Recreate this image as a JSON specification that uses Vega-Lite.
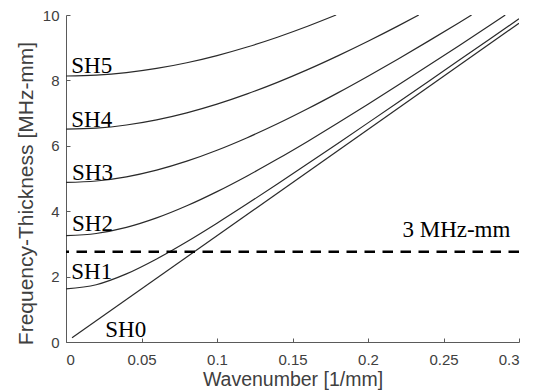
{
  "$schema": "https://vega.github.io/schema/vega-lite/v6.json",
  "autosize": {"type": "none"},
  "width": 453,
  "height": 327,
  "padding": {"left": 66, "top": 15, "right": 16, "bottom": 49},
  "background": "white",
  "config": {
    "view": {"stroke": null},
    "axis": {
      "grid": false,
      "domainColor": "#5a5a5a",
      "domainWidth": 1,
      "tickColor": "#5a5a5a",
      "tickSize": -4,
      "labelFont": "Liberation Sans",
      "labelFontSize": 15,
      "labelColor": "#404040",
      "titleFont": "Liberation Sans",
      "titleFontWeight": "normal",
      "titleColor": "#404040"
    }
  },
  "datasets": {
    "curves": [
      {"mode": "SH0", "k": 0.004, "fd": 0.13},
      {"mode": "SH0", "k": 0.3, "fd": 9.75},
      {"mode": "SH1", "k": 0, "fd": 1.627},
      {"mode": "SH1", "k": 0.02, "fd": 1.752},
      {"mode": "SH1", "k": 0.04, "fd": 2.083},
      {"mode": "SH1", "k": 0.06, "fd": 2.54},
      {"mode": "SH1", "k": 0.08, "fd": 3.067},
      {"mode": "SH1", "k": 0.1, "fd": 3.634},
      {"mode": "SH1", "k": 0.12, "fd": 4.226},
      {"mode": "SH1", "k": 0.14, "fd": 4.832},
      {"mode": "SH1", "k": 0.16, "fd": 5.449},
      {"mode": "SH1", "k": 0.18, "fd": 6.072},
      {"mode": "SH1", "k": 0.2, "fd": 6.701},
      {"mode": "SH1", "k": 0.22, "fd": 7.333},
      {"mode": "SH1", "k": 0.24, "fd": 7.968},
      {"mode": "SH1", "k": 0.26, "fd": 8.605},
      {"mode": "SH1", "k": 0.28, "fd": 9.244},
      {"mode": "SH1", "k": 0.3, "fd": 9.885},
      {"mode": "SH2", "k": 0, "fd": 3.254},
      {"mode": "SH2", "k": 0.02, "fd": 3.318},
      {"mode": "SH2", "k": 0.04, "fd": 3.504},
      {"mode": "SH2", "k": 0.06, "fd": 3.794},
      {"mode": "SH2", "k": 0.08, "fd": 4.165},
      {"mode": "SH2", "k": 0.1, "fd": 4.599},
      {"mode": "SH2", "k": 0.12, "fd": 5.079},
      {"mode": "SH2", "k": 0.14, "fd": 5.594},
      {"mode": "SH2", "k": 0.16, "fd": 6.134},
      {"mode": "SH2", "k": 0.18, "fd": 6.694},
      {"mode": "SH2", "k": 0.2, "fd": 7.269},
      {"mode": "SH2", "k": 0.22, "fd": 7.856},
      {"mode": "SH2", "k": 0.24, "fd": 8.452},
      {"mode": "SH2", "k": 0.26, "fd": 9.055},
      {"mode": "SH2", "k": 0.28, "fd": 9.664},
      {"mode": "SH2", "k": 0.2909, "fd": 10},
      {"mode": "SH3", "k": 0, "fd": 4.881},
      {"mode": "SH3", "k": 0.02, "fd": 4.924},
      {"mode": "SH3", "k": 0.04, "fd": 5.051},
      {"mode": "SH3", "k": 0.06, "fd": 5.256},
      {"mode": "SH3", "k": 0.08, "fd": 5.53},
      {"mode": "SH3", "k": 0.1, "fd": 5.864},
      {"mode": "SH3", "k": 0.12, "fd": 6.248},
      {"mode": "SH3", "k": 0.14, "fd": 6.673},
      {"mode": "SH3", "k": 0.16, "fd": 7.132},
      {"mode": "SH3", "k": 0.18, "fd": 7.619},
      {"mode": "SH3", "k": 0.2, "fd": 8.129},
      {"mode": "SH3", "k": 0.22, "fd": 8.657},
      {"mode": "SH3", "k": 0.24, "fd": 9.201},
      {"mode": "SH3", "k": 0.26, "fd": 9.758},
      {"mode": "SH3", "k": 0.2686, "fd": 10},
      {"mode": "SH4", "k": 0, "fd": 6.508},
      {"mode": "SH4", "k": 0.02, "fd": 6.54},
      {"mode": "SH4", "k": 0.04, "fd": 6.637},
      {"mode": "SH4", "k": 0.06, "fd": 6.794},
      {"mode": "SH4", "k": 0.08, "fd": 7.008},
      {"mode": "SH4", "k": 0.1, "fd": 7.274},
      {"mode": "SH4", "k": 0.12, "fd": 7.587},
      {"mode": "SH4", "k": 0.14, "fd": 7.941},
      {"mode": "SH4", "k": 0.16, "fd": 8.33},
      {"mode": "SH4", "k": 0.18, "fd": 8.751},
      {"mode": "SH4", "k": 0.2, "fd": 9.198},
      {"mode": "SH4", "k": 0.22, "fd": 9.668},
      {"mode": "SH4", "k": 0.2336, "fd": 10},
      {"mode": "SH5", "k": 0, "fd": 8.135},
      {"mode": "SH5", "k": 0.02, "fd": 8.161},
      {"mode": "SH5", "k": 0.04, "fd": 8.238},
      {"mode": "SH5", "k": 0.06, "fd": 8.365},
      {"mode": "SH5", "k": 0.08, "fd": 8.54},
      {"mode": "SH5", "k": 0.1, "fd": 8.76},
      {"mode": "SH5", "k": 0.12, "fd": 9.022},
      {"mode": "SH5", "k": 0.14, "fd": 9.321},
      {"mode": "SH5", "k": 0.16, "fd": 9.655},
      {"mode": "SH5", "k": 0.1789, "fd": 10}
    ],
    "labels": [
      {"text": "SH0", "k": 0.026, "fd": 0.15},
      {"text": "SH1", "k": 0.0035, "fd": 1.93},
      {"text": "SH2", "k": 0.004, "fd": 3.4},
      {"text": "SH3", "k": 0.004, "fd": 4.96},
      {"text": "SH4", "k": 0.0035, "fd": 6.59},
      {"text": "SH5", "k": 0.0035, "fd": 8.23},
      {"text": "3 MHz-mm", "k": 0.2228, "fd": 3.21}
    ],
    "threshold": [
      {"level": 2.76}
    ]
  },
  "layer": [
    {
      "data": {"name": "curves"},
      "mark": {"type": "line", "interpolate": "monotone", "stroke": "#2a2a2a", "strokeWidth": 1.2, "clip": true},
      "encoding": {
        "x": {
          "field": "k", "type": "quantitative",
          "scale": {"domain": [0, 0.3], "nice": false},
          "axis": {"values": [0, 0.05, 0.1, 0.15, 0.2, 0.25, 0.3], "format": "~g", "labelPadding": 14, "title": "Wavenumber [1/mm]", "titlePadding": 3, "titleFontSize": 19.5}
        },
        "y": {
          "field": "fd", "type": "quantitative",
          "scale": {"domain": [0, 10], "nice": false},
          "axis": {"values": [0, 2, 4, 6, 8, 10], "labelPadding": 11, "title": "Frequency-Thickness [MHz-mm]", "titlePadding": 6, "titleFontSize": 21, "titleY": 178}
        },
        "detail": {"field": "mode"}
      }
    },
    {
      "data": {"name": "threshold"},
      "mark": {"type": "rule", "stroke": "black", "strokeWidth": 2.5, "strokeDash": [10.5, 7.5]},
      "encoding": {"y": {"field": "level", "type": "quantitative"}}
    },
    {
      "data": {"name": "labels"},
      "mark": {"type": "text", "align": "left", "baseline": "alphabetic", "font": "Liberation Serif", "fontSize": 23, "fill": "black"},
      "encoding": {
        "x": {"field": "k", "type": "quantitative"},
        "y": {"field": "fd", "type": "quantitative"},
        "text": {"field": "text"}
      }
    }
  ]
}
